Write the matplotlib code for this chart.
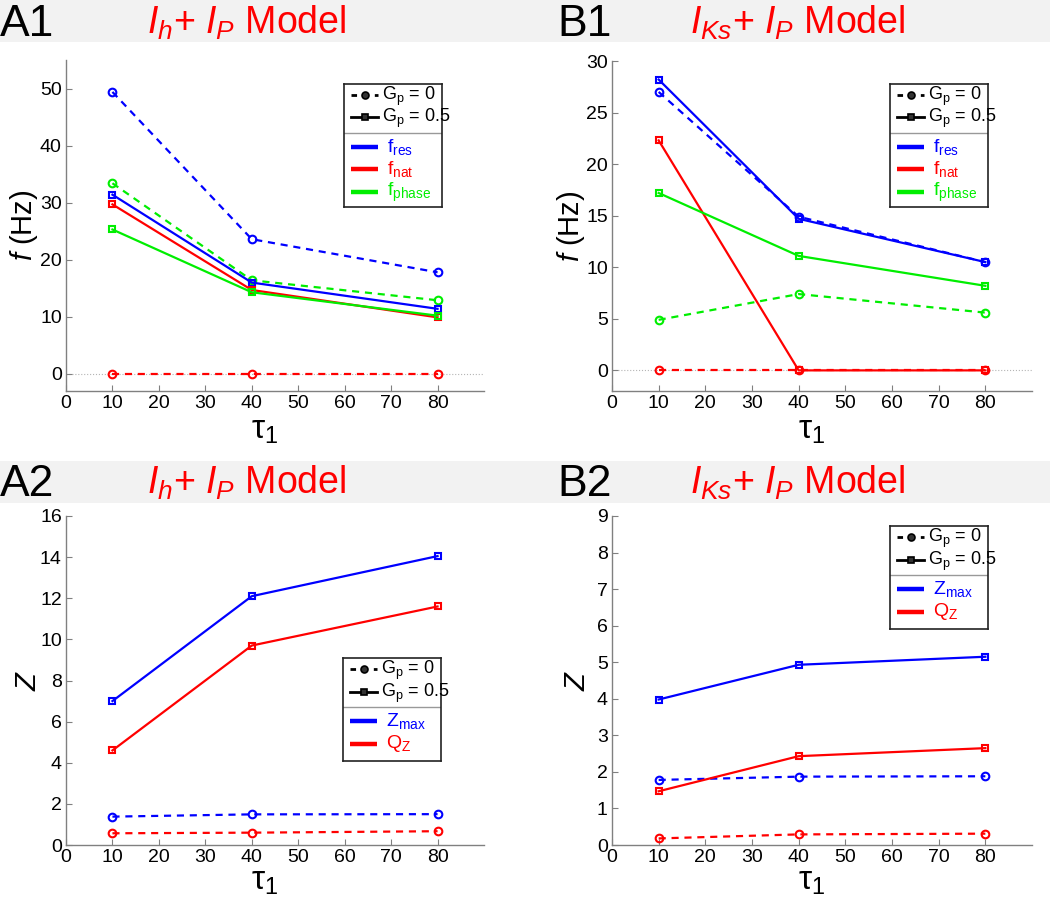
import matplotlib
matplotlib.use("Agg")
import matplotlib.pyplot as plt
from matplotlib.patches import Rectangle

plt.rcParams['font.family'] = ['Liberation Sans', 'DejaVu Sans']
plt.rcParams['mathtext.fontset'] = 'custom'
plt.rcParams['mathtext.rm'] = 'Liberation Sans'
plt.rcParams['mathtext.it'] = 'Liberation Sans:italic'
plt.rcParams['mathtext.bf'] = 'Liberation Sans:bold'

# ---------------- data ----------------
tau = [10, 40, 80]
x_ticks = [0, 10, 20, 30, 40, 50, 60, 70, 80]

# A1: Ih + IP model, frequencies (Hz)
a1_fres_g0 = [49.4, 23.6, 17.8]
a1_fres_g05 = [31.4, 16.0, 11.4]
a1_fnat_g0 = [0.0, 0.0, 0.0]
a1_fnat_g05 = [29.7, 14.7, 9.9]
a1_fphase_g0 = [33.4, 16.4, 12.9]
a1_fphase_g05 = [25.3, 14.3, 10.2]

# B1: IKs + IP model, frequencies (Hz)
b1_fres_g0 = [27.0, 14.9, 10.5]
b1_fres_g05 = [28.2, 14.7, 10.5]
b1_fnat_g0 = [0.0, 0.0, 0.0]
b1_fnat_g05 = [22.3, 0.0, 0.0]
b1_fphase_g0 = [4.9, 7.4, 5.6]
b1_fphase_g05 = [17.2, 11.1, 8.2]

# A2: Ih + IP model, impedance
a2_zmax_g0 = [1.38, 1.49, 1.50]
a2_zmax_g05 = [7.0, 12.1, 14.05]
a2_qz_g0 = [0.57, 0.60, 0.67]
a2_qz_g05 = [4.6, 9.7, 11.6]

# B2: IKs + IP model, impedance
b2_zmax_g0 = [1.78, 1.87, 1.88]
b2_zmax_g05 = [3.98, 4.93, 5.15]
b2_qz_g0 = [0.18, 0.29, 0.31]
b2_qz_g05 = [1.47, 2.43, 2.65]

a1_yticks = [0, 10, 20, 30, 40, 50]
b1_yticks = [0, 5, 10, 15, 20, 25, 30]
a2_yticks = [0, 2, 4, 6, 8, 10, 12, 14, 16]
b2_yticks = [0, 1, 2, 3, 4, 5, 6, 7, 8, 9]

BLUE = '#0000ff'
RED = '#ff0000'
GREEN = '#00ee00'
GRAY = '#808080'

W, H = 1050, 901
fig = plt.figure(figsize=(W / 100, H / 100), dpi=100)


def px_axes(x0, y0, x1, y1, **kw):
    return fig.add_axes([x0 / W, 1 - y1 / H, (x1 - x0) / W, (y1 - y0) / H], **kw)


# header bands
for (y0, y1) in [(0, 42), (461, 503)]:
    fig.patches.append(Rectangle((0, 1 - y1 / H), 1, (y1 - y0) / H,
                                 transform=fig.transFigure, facecolor='#f2f2f2',
                                 edgecolor='none', zorder=0))

headers = [
    ('A1', 22, r'$I_h$+ $I_P$ Model', 247),
    ('B1', 22, r'$I_{Ks}$+ $I_P$ Model', 798),
    ('A2', 482, r'$I_h$+ $I_P$ Model', 247),
    ('B2', 482, r'$I_{Ks}$+ $I_P$ Model', 798),
]
for lab, yc, title, xc in headers:
    xl = 0 if lab.startswith('A') else 557
    fig.text(xl / W, 1 - (yc + 2) / H, lab, fontsize=32, ha='left', va='center', color='black')
    fig.text(xc / W, 1 - (yc + 1) / H, title, fontsize=27, ha='center', va='center', color=RED)


def style_axes(ax, ylim, yticks, ylabel, ylab_x, xlab_y):
    ax.set_xlim(0, 90)
    ax.set_ylim(*ylim)
    ax.set_xticks(x_ticks)
    ax.set_yticks(yticks)
    for s in ['top', 'right']:
        ax.spines[s].set_visible(False)
    for s in ['left', 'bottom']:
        ax.spines[s].set_color(GRAY)
        ax.spines[s].set_linewidth(1.0)
    ax.tick_params(direction='in', length=4, width=0.8, color=GRAY,
                   labelsize=14, labelcolor='black', pad=3)
    ax.set_xlabel(r'$\mathrm{\tau}_1$', fontsize=24, va='center')
    ax.xaxis.set_label_coords(0.476, xlab_y)
    ax.set_ylabel(ylabel, fontsize=21, va='center')
    ax.yaxis.set_label_coords(ylab_x, 0.5)


def series(ax, y, color, dashed):
    if dashed:
        ax.plot(tau, y, color=color, lw=1.6, ls=(0, (3.2, 2.6)), marker='o', ms=5.5,
                mfc='none', mew=1.5, zorder=3)
    else:
        ax.plot(tau, y, color=color, lw=1.6, ls='-', marker='s', ms=5,
                mfc='none', mew=1.5, zorder=3)


def legend_box(box, rows, seps):
    x0, y0, x1, y1 = box
    lax = px_axes(x0, y0, x1, y1)
    lax.set_xlim(0, x1 - x0)
    lax.set_ylim(y1 - y0, 0)
    lax.set_xticks([])
    lax.set_yticks([])
    for s in lax.spines.values():
        s.set_color('#222222')
        s.set_linewidth(1.2)
    for dy, kind, label, color in rows:
        if kind == 'g0':
            lax.plot([7, 34], [dy, dy], color='k', lw=2, ls=(0, (2, 2.2)))
            lax.plot([20.5], [dy], marker='o', ms=5, color='k', mfc='#333333', mew=1.2)
            lax.text(38, dy + 1, label, fontsize=13, va='center', ha='left', color='k')
        elif kind == 'g05':
            lax.plot([7, 34], [dy, dy], color='k', lw=2, ls='-')
            lax.plot([20.5], [dy], marker='s', ms=4.5, color='k', mfc='#333333', mew=1.2)
            lax.text(38, dy + 1, label, fontsize=13, va='center', ha='left', color='k')
        else:
            lax.plot([7, 34], [dy, dy], color=color, lw=3.2, ls='-', solid_capstyle='butt')
            lax.text(43, dy, label, fontsize=14, va='center', ha='left', color=color)
    for sy in seps:
        lax.axhline(sy, color='#999999', lw=1)


GP0 = r'G$_{\mathrm{p}}$ = 0'
GP05 = r'G$_{\mathrm{p}}$ = 0.5'

# ---------------- A1 ----------------
ax = px_axes(66, 60, 484, 391)
ax.axhline(0, color='#b5b5b5', ls=':', lw=0.8, zorder=1)
series(ax, a1_fres_g0, BLUE, True)
series(ax, a1_fphase_g0, GREEN, True)
series(ax, a1_fnat_g0, RED, True)
series(ax, a1_fres_g05, BLUE, False)
series(ax, a1_fnat_g05, RED, False)
series(ax, a1_fphase_g05, GREEN, False)
style_axes(ax, (-3, 55), a1_yticks, r'$f$ (Hz)', -0.1, -0.12)

legend_box((344, 84, 442, 207), [
    (11, 'g0', GP0, 'k'),
    (33, 'g05', GP05, 'k'),
    (63, 'c', r'f$_{\mathrm{res}}$', BLUE),
    (85, 'c', r'f$_{\mathrm{nat}}$', RED),
    (108, 'c', r'f$_{\mathrm{phase}}$', GREEN),
], [48.5])

# ---------------- B1 ----------------
ax = px_axes(612, 61, 1032, 391)
ax.axhline(0, color='#b5b5b5', ls=':', lw=0.8, zorder=1)
series(ax, b1_fres_g0, BLUE, True)
series(ax, b1_fphase_g0, GREEN, True)
series(ax, b1_fnat_g0, RED, True)
series(ax, b1_fres_g05, BLUE, False)
series(ax, b1_fnat_g05, RED, False)
series(ax, b1_fphase_g05, GREEN, False)
style_axes(ax, (-2, 30), b1_yticks, r'$f$ (Hz)', -0.097, -0.12)

legend_box((890, 84, 988, 207), [
    (11, 'g0', GP0, 'k'),
    (33, 'g05', GP05, 'k'),
    (63, 'c', r'f$_{\mathrm{res}}$', BLUE),
    (85, 'c', r'f$_{\mathrm{nat}}$', RED),
    (108, 'c', r'f$_{\mathrm{phase}}$', GREEN),
], [48.5])

# ---------------- A2 ----------------
ax = px_axes(66, 516, 484, 845)
series(ax, a2_zmax_g0, BLUE, True)
series(ax, a2_qz_g0, RED, True)
series(ax, a2_zmax_g05, BLUE, False)
series(ax, a2_qz_g05, RED, False)
style_axes(ax, (0, 16), a2_yticks, r'$Z$', -0.09, -0.11)

legend_box((343, 658, 441, 761), [
    (11, 'g0', GP0, 'k'),
    (34, 'g05', GP05, 'k'),
    (63, 'c', r'Z$_{\mathrm{max}}$', BLUE),
    (86, 'c', r'Q$_{\mathrm{Z}}$', RED),
], [48.7])

# ---------------- B2 ----------------
ax = px_axes(612, 516, 1032, 845)
series(ax, b2_zmax_g0, BLUE, True)
series(ax, b2_qz_g0, RED, True)
series(ax, b2_zmax_g05, BLUE, False)
series(ax, b2_qz_g05, RED, False)
style_axes(ax, (0, 9), b2_yticks, r'$Z$', -0.083, -0.11)

legend_box((890, 526, 988, 629), [
    (11, 'g0', GP0, 'k'),
    (34, 'g05', GP05, 'k'),
    (63, 'c', r'Z$_{\mathrm{max}}$', BLUE),
    (86, 'c', r'Q$_{\mathrm{Z}}$', RED),
], [48.7])

fig.savefig('out.png', dpi=100, facecolor='white')
